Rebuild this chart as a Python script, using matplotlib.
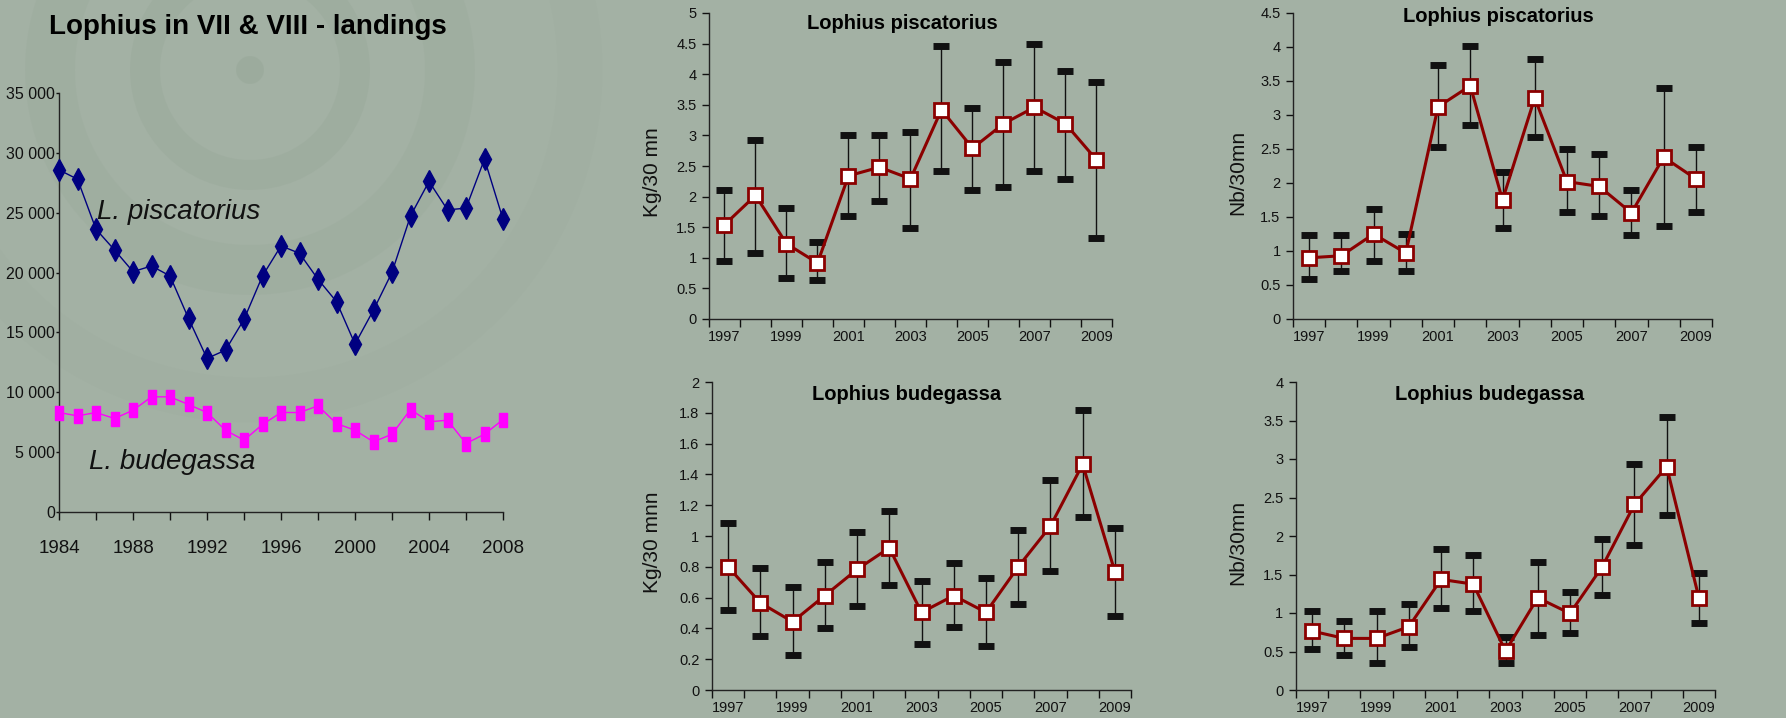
import matplotlib
matplotlib.use("Agg")
import matplotlib.pyplot as plt
from matplotlib.patches import Wedge, Circle
import numpy as np

plt.rcParams['font.family'] = ['Liberation Sans', 'DejaVu Sans']

# ---------------- data ----------------
land_years = list(range(1984, 2009))
piscatorius_landings = [28580, 27800, 23620, 21890, 20080, 20550, 19720, 16170, 12830, 13520,
                        16090, 19720, 22230, 21610, 19440, 17570, 14030, 16870, 20020, 24730,
                        27610, 25240, 25380, 29480, 24460]
budegassa_landings = [8310, 8030, 8310, 7810, 8500, 9620, 9620, 8980, 8310, 6830,
                      6000, 7310, 8310, 8310, 8870, 7390, 6830, 5860, 6500, 8560,
                      7530, 7670, 5720, 6500, 7720]

survey_years = list(range(1997, 2010))

pisc_kg = [1.54, 2.02, 1.23, 0.915, 2.34, 2.48, 2.29, 3.42, 2.79, 3.19, 3.46, 3.19, 2.60]
pisc_kg_hi = [2.11, 2.93, 1.82, 1.25, 3.00, 3.00, 3.05, 4.46, 3.44, 4.20, 4.50, 4.06, 3.87]
pisc_kg_lo = [0.94, 1.08, 0.67, 0.63, 1.68, 1.92, 1.49, 2.42, 2.11, 2.15, 2.42, 2.29, 1.33]

pisc_nb = [0.90, 0.93, 1.25, 0.97, 3.12, 3.43, 1.75, 3.25, 2.02, 1.95, 1.56, 2.38, 2.06]
pisc_nb_hi = [1.23, 1.23, 1.62, 1.25, 3.73, 4.01, 2.16, 3.83, 2.50, 2.43, 1.90, 3.39, 2.53]
pisc_nb_lo = [0.59, 0.71, 0.85, 0.71, 2.53, 2.85, 1.34, 2.68, 1.58, 1.52, 1.23, 1.37, 1.58]

bud_kg = [0.80, 0.566, 0.443, 0.613, 0.783, 0.923, 0.504, 0.613, 0.504, 0.80, 1.064, 1.466, 0.768]
bud_kg_hi = [1.085, 0.79, 0.666, 0.834, 1.023, 1.163, 0.709, 0.822, 0.729, 1.038, 1.366, 1.816, 1.053]
bud_kg_lo = [0.52, 0.35, 0.227, 0.404, 0.545, 0.681, 0.296, 0.411, 0.287, 0.558, 0.772, 1.124, 0.482]

bud_nb = [0.765, 0.67, 0.67, 0.822, 1.436, 1.375, 0.506, 1.198, 0.995, 1.60, 2.41, 2.90, 1.198]
bud_nb_hi = [1.025, 0.90, 1.025, 1.116, 1.83, 1.75, 0.692, 1.665, 1.267, 1.955, 2.93, 3.55, 1.52]
bud_nb_lo = [0.528, 0.454, 0.346, 0.562, 1.06, 1.025, 0.346, 0.714, 0.744, 1.24, 1.88, 2.27, 0.865]

land_title = "Lophius in VII & VIII - landings"
label_pisc = "L. piscatorius"
label_bud = "L. budegassa"

# ---------------- figure ----------------
BG = '#a3b1a4'
W, H = 1786, 718
fig = plt.figure(figsize=(W / 100, H / 100), dpi=100, facecolor=BG)

# faint decorative rings (background swirl)
bgax = fig.add_axes([0, 0, 1, 1], zorder=-10)
bgax.set_xlim(0, W)
bgax.set_ylim(H, 0)
bgax.axis('off')
ring_col = '#97a798'
cx, cy = 250, 70
for r, w, a in [(105, 30, 0.35), (200, 50, 0.25), (330, 45, 0.15)]:
    bgax.add_patch(Wedge((cx, cy), r + w / 2, 0, 360, width=w, color=ring_col, alpha=a, lw=0))
bgax.add_patch(Circle((cx, cy), 14, color='#97a798', alpha=0.5, lw=0))


def px_axes(x0, y0, x1, y1):
    return fig.add_axes([x0 / W, 1 - y1 / H, (x1 - x0) / W, (y1 - y0) / H])


def style(ax):
    ax.set_facecolor('none')
    for s in ['top', 'right']:
        ax.spines[s].set_visible(False)
    for s in ['left', 'bottom']:
        ax.spines[s].set_color('#222222')
        ax.spines[s].set_linewidth(1.0)


# ---------------- left panel: landings ----------------
ax0 = px_axes(59, 93, 503, 512)
style(ax0)
ax0.plot(land_years, piscatorius_landings, color='#000080', lw=1.0,
         marker='d', markersize=11, markerfacecolor='#000080', markeredgecolor='#000080',
         clip_on=False, zorder=3)
rect = [(-0.3, -0.5), (0.3, -0.5), (0.3, 0.5), (-0.3, 0.5), (-0.3, -0.5)]
ax0.plot(land_years, budegassa_landings, color='#ff00ff', lw=1.0,
         marker=rect, markersize=10, markerfacecolor='#ff00ff', markeredgecolor='#ff00ff',
         clip_on=False, zorder=3)
ax0.set_xlim(1984, 2008)
ax0.set_ylim(0, 35000)
ax0.set_xticks(range(1984, 2009, 2), minor=False)
ax0.set_xticklabels([str(y) if (y - 1984) % 4 == 0 else '' for y in range(1984, 2009, 2)])
yt = list(range(0, 35001, 5000))
ax0.set_yticks(yt)
ax0.set_yticklabels(['{:,}'.format(v).replace(',', ' ') for v in yt])
ax0.tick_params(axis='x', direction='out', length=6, width=1, labelsize=13.5, pad=14, colors='#111111')
ax0.tick_params(axis='y', direction='out', length=2, width=1, labelsize=11.5, pad=1, colors='#111111')
ax0.text(1986.05, 25100, label_pisc, fontsize=20, style='italic', va='center', ha='left', color='#111111')
ax0.text(1985.6, 4200, label_bud, fontsize=20, style='italic', va='center', ha='left', color='#111111')
fig.text(248 / W, 1 - 27 / H, land_title, fontsize=20, fontweight='bold', ha='center', va='center',
         color='#000000')


# ---------------- right panels: survey indices ----------------
def survey(ax, vals, lo, hi, ymax, ystep, title, ylabel, title_xy, ylab_x):
    style(ax)
    yrs = np.array(survey_years)
    v = np.array(vals)
    err = [v - np.array(lo), np.array(hi) - v]
    ax.errorbar(yrs, v, yerr=err, fmt='none', ecolor='#111111', elinewidth=1.0,
                capsize=6, capthick=5, zorder=2, clip_on=False)
    ax.plot(yrs, v, color='#8b0000', lw=2.2, marker='s', markersize=10,
            markerfacecolor='white', markeredgecolor='#8b0000', markeredgewidth=2,
            zorder=3, clip_on=False)
    ax.set_xlim(yrs[0] - 0.5, yrs[-1] + 0.5)
    ax.set_ylim(0, ymax)
    ax.set_xticks(np.arange(yrs[0] - 0.5, yrs[-1] + 1.0, 1.0))
    ax.set_xticklabels([])
    ax.set_xticks(yrs[::2], minor=True)
    ax.set_xticklabels([str(y) for y in yrs[::2]], minor=True)
    ax.tick_params(axis='x', which='major', direction='out', length=6, width=1, colors='#111111')
    ax.tick_params(axis='x', which='minor', length=0, labelsize=10.5, pad=8, colors='#111111')
    yt = np.round(np.arange(0, ymax + ystep / 2, ystep), 3)
    ax.set_yticks(yt)
    ax.set_yticklabels(['%g' % t for t in yt])
    ax.tick_params(axis='y', direction='out', length=5, width=1, labelsize=10.5, pad=4, colors='#111111')
    ax.text(title_xy[0], title_xy[1], title, transform=ax.transAxes, ha='center', va='center',
            fontsize=14.5, fontweight='bold', color='#000000')
    ax.set_ylabel(ylabel, fontsize=15, color='#111111')
    ax.yaxis.set_label_coords(ylab_x, 0.48)


ax1 = px_axes(709, 13, 1112, 319)
survey(ax1, pisc_kg, pisc_kg_lo, pisc_kg_hi, 5, 0.5, 'Lophius piscatorius', 'Kg/30 mn',
       (0.481, 0.967), -0.117)

ax2 = px_axes(1293, 13, 1712, 319)
survey(ax2, pisc_nb, pisc_nb_lo, pisc_nb_hi, 4.5, 0.5, 'Lophius piscatorius', 'Nb/30mn',
       (0.489, 0.99), -0.110)

ax3 = px_axes(712, 382, 1131, 690)
survey(ax3, bud_kg, bud_kg_lo, bud_kg_hi, 2, 0.2, 'Lophius budegassa', 'Kg/30 mnn',
       (0.465, 0.961), -0.119)

ax4 = px_axes(1296, 382, 1715, 690)
survey(ax4, bud_nb, bud_nb_lo, bud_nb_hi, 4, 0.5, 'Lophius budegassa', 'Nb/30mn',
       (0.463, 0.961), -0.117)

fig.savefig('out.png', dpi=100, facecolor=BG)
